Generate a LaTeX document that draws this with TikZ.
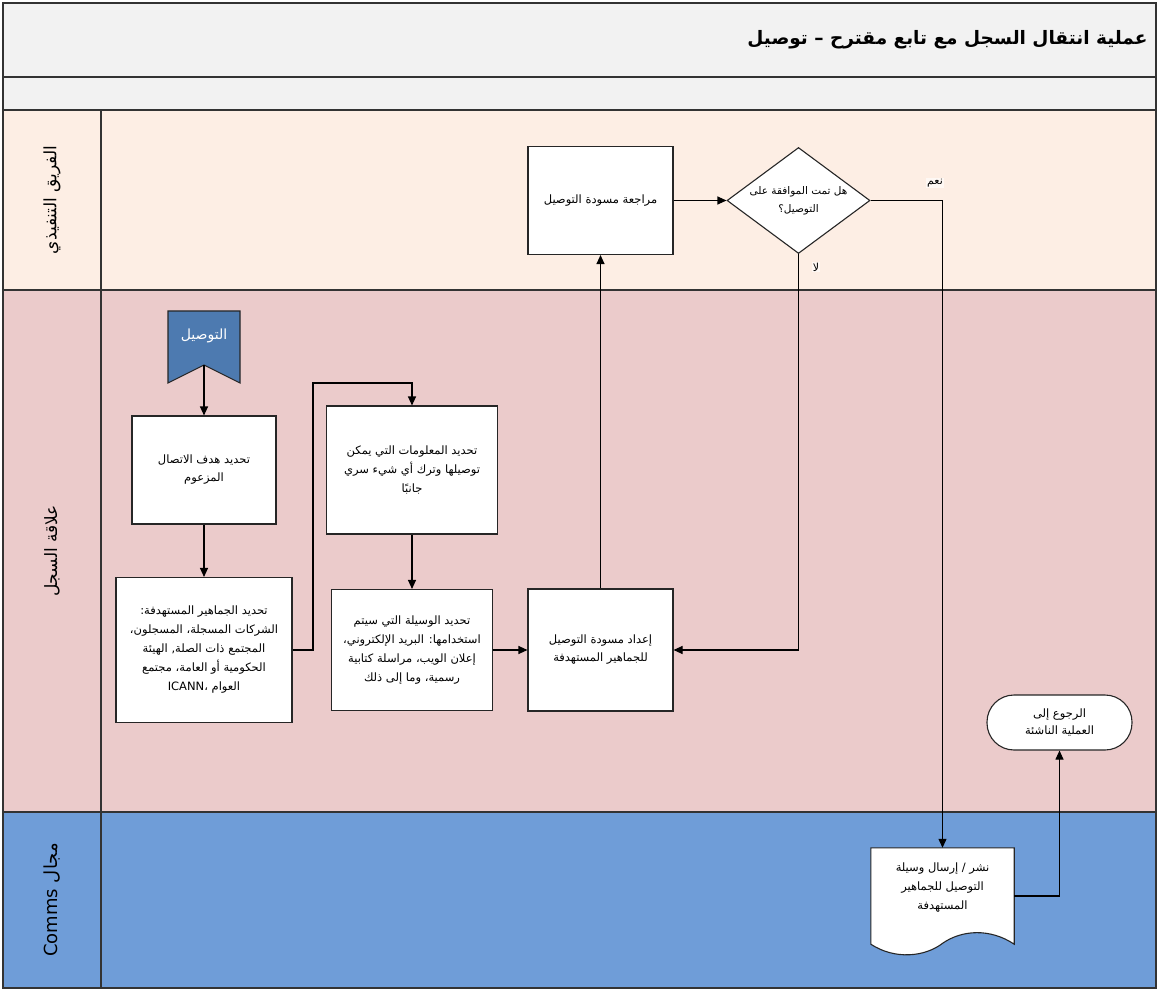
\documentclass[tikz,border=0pt]{standalone}
\usepackage{fontspec}
\setmainfont{Liberation Sans}
\newfontfamily\arabicfont[Script=Arabic]{DejaVu Sans}
\TeXXeTstate=1
\usetikzlibrary{arrows.meta,shapes.geometric,calc}
\newcommand\RL[1]{\beginR #1\endR}
\definecolor{titlebg}{HTML}{F2F2F2}
\definecolor{laneA}{HTML}{FDEEE4}
\definecolor{laneB}{HTML}{EBCBCB}
\definecolor{laneC}{HTML}{6F9DD8}
\definecolor{banner}{HTML}{4D7AB0}
\tikzset{
  frame/.style={draw=black!80, line width=1.1pt},
  procbox/.style={draw=black!85, line width=1.1pt, fill=white, align=center,
    font=\arabicfont\fontsize{11.5}{19}\selectfont, inner sep=2pt},
  lanelabel/.style={rotate=90, font=\arabicfont\fontsize{17}{19}\selectfont},
  conn/.style={draw=black, line width=1.1pt},
  arr/.style={conn, -{Triangle[length=9pt,width=8pt]}},
  tag/.style={fill=white!60!laneA, inner sep=1pt, font=\arabicfont\fontsize{11}{13}\selectfont}
}
\begin{document}
\begin{tikzpicture}[x=1pt,y=-1pt]
\useasboundingbox (0,0) rectangle (1159,992);
% bands
\fill[white] (0,0) rectangle (1159,992);
\filldraw[frame, fill=titlebg] (3,3) rectangle (1156,77);
\filldraw[frame, fill=titlebg] (3,77) rectangle (1156,110);
\filldraw[frame, fill=laneA] (3,110) rectangle (1156,290);
\filldraw[frame, fill=laneB] (3,290) rectangle (1156,812);
\filldraw[frame, fill=laneC] (3,812) rectangle (1156,988);
\draw[frame] (101,110) -- (101,988);
% title
\node[anchor=east, font=\arabicfont\bfseries\fontsize{18.5}{22}\selectfont] (title) at (1151,40) {\RL{عملية انتقال السجل مع تابع مقترح – توصيل}};
% lane labels
\node[lanelabel] (l1) at (52,200) {\RL{الفريق التنفيذي}};
\node[lanelabel] (l2) at (52,551) {\RL{علاقة السجل}};
\node[lanelabel, font=\arabicfont\fontsize{18}{20}\selectfont] (l3) at (52,900) {\RL{مجال \beginL Comms\endL}};

% banner (start)
\filldraw[draw=black!85, line width=1.1pt, fill=banner] (168,311) -- (240,311) -- (240,383) -- (204,365) -- (168,383) -- cycle;
\coordinate (bannerbot) at (204,365);
\node[text=white, font=\arabicfont\fontsize{14}{16}\selectfont] (bannertxt) at (204,336) {\RL{التوصيل}};

% boxes
\node[procbox, minimum width=144, minimum height=108, font=\arabicfont\fontsize{11.5}{18}\selectfont] (box1) at (204,470) {\RL{تحديد هدف الاتصال}\\\RL{المزعوم}};
\node[procbox, minimum width=176, minimum height=145] (box2) at (204,650) {\RL{تحديد الجماهير المستهدفة:}\\\RL{الشركات المسجلة، المسجلون،}\\\RL{المجتمع ذات الصلة, الهيئة}\\\RL{الحكومية أو العامة، مجتمع}\\\RL{العوام ،\beginL ICANN\endL}};
\node[procbox, minimum width=171, minimum height=128] (box3) at (412,470) {\RL{تحديد المعلومات التي يمكن}\\\RL{توصيلها وترك أي شيء سري}\\\RL{جانبًا}};
\node[procbox, minimum width=161, minimum height=121] (box4) at (412,650) {\RL{تحديد الوسيلة التي سيتم}\\\RL{استخدامها: البريد الإلكتروني،}\\\RL{إعلان الويب، مراسلة كتابية}\\\RL{رسمية، وما إلى ذلك}};
\node[procbox, minimum width=145, minimum height=122, font=\arabicfont\fontsize{11.5}{18}\selectfont] (prep) at (600.5,650) {\RL{إعداد مسودة التوصيل}\\\RL{للجماهير المستهدفة}};
\node[procbox, minimum width=145, minimum height=108] (review) at (600.5,200.5) {\RL{مراجعة مسودة التوصيل}};
\node[procbox, diamond, aspect=1.35, minimum width=143, minimum height=106, inner sep=0pt, font=\arabicfont\fontsize{10.5}{18}\selectfont] (dia) at (798.5,200.5) {\RL{هل تمت الموافقة على}\\\RL{التوصيل؟}};
\node[procbox, rounded corners=27pt, minimum width=145, minimum height=55, font=\arabicfont\fontsize{11.5}{17}\selectfont] (term) at (1059.5,722.5) {\RL{الرجوع إلى}\\\RL{العملية الناشئة}};

% document shape
\node[minimum width=143, minimum height=96, inner sep=0pt] (doc) at (942.5,896) {};
\filldraw[draw=black!85, line width=1.1pt, fill=white] (doc.north west) -- (doc.north east) -- (doc.south east)
  .. controls (990,928) and (962,930) .. (943,943) .. controls (925,957) and (895,960) .. (doc.south west) -- cycle;
\node[align=center, font=\arabicfont\fontsize{11.5}{19}\selectfont] (doctxt) at (942.5,888) {\RL{نشر / إرسال وسيلة}\\\RL{التوصيل للجماهير}\\\RL{المستهدفة}};

% connectors
\coordinate (bend1) at (313,383);
\draw[arr] (bannerbot) -- (box1.north);
\draw[arr] (box1.south) -- (box2.north);
\draw[arr] (box2.east) -| (bend1) -| (box3.north);
\draw[arr] (box3.south) -- (box4.north);
\draw[arr] (box4.east) -- (prep.west);
\draw[arr] (prep.north) -- (review.south);
\draw[arr] (review.east) -- (dia.west);
\draw[arr] (dia.south) |- (prep.east);
\draw[arr] (dia.east) -| (doc.north);
\draw[arr] (doc.east) -| (term.south);
\node[tag] (yes) at (935,183) {\RL{نعم}};
\node[tag] (no) at (816,267) {\RL{لا}};
\end{tikzpicture}
\end{document}
